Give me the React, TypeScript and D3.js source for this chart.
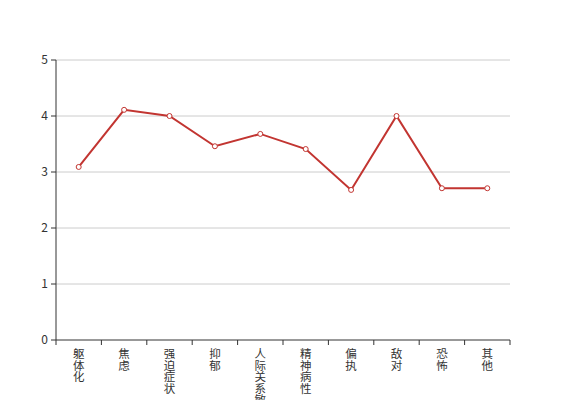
import React from "react";
import * as d3 from "d3";

const categories = ["躯体化", "焦虑", "强迫症状", "抑郁", "人际关系敏感", "精神病性", "偏执", "敌对", "恐怖", "其他"];
const values = [3.09, 4.11, 4.0, 3.46, 3.68, 3.41, 2.68, 4.0, 2.71, 2.71];
const yTicks = [0, 1, 2, 3, 4, 5];

export default function App() {
  const W = 567, H = 400;
  const left = 56, right = 510, top = 60, bottom = 340;
  const x = d3.scaleBand<string>().domain(categories).range([left, right]);
  const y = d3.scaleLinear().domain([0, 5]).range([bottom, top]);
  const line = d3.line<number>()
    .x((_, i) => (x(categories[i]) as number) + x.bandwidth() / 2)
    .y((d) => y(d));
  const boundaries = categories.map((c) => x(c) as number).concat([right]);
  const font = "'Noto Sans CJK SC', 'Noto Sans', sans-serif";
  return (
    <svg width={W} height={H} style={{ position: "absolute", left: 0, top: 0 }}>
      {yTicks.map((t) => (
        <g key={t}>
          {t > 0 && <line x1={left} x2={right} y1={y(t)} y2={y(t)} stroke="#ccc" strokeWidth={1} />}
          <line x1={left - 5} x2={left} y1={y(t)} y2={y(t)} stroke="#333" />
          <text x={left - 8} y={y(t)} dy="0.35em" textAnchor="end" fontSize={12} fill="#333" fontFamily={font}>{t}</text>
        </g>
      ))}
      <line x1={left} x2={left} y1={top} y2={bottom} stroke="#333" />
      <line x1={left} x2={right} y1={bottom} y2={bottom} stroke="#333" />
      {boundaries.map((b, i) => (
        <line key={i} x1={b} x2={b} y1={bottom} y2={bottom + 5} stroke="#333" />
      ))}
      {categories.map((c) => (
        <text key={c} x={(x(c) as number) + x.bandwidth() / 2} y={348} fontSize={11.5} fill="#333" fontFamily={font}
          textAnchor="start" style={{ writingMode: "vertical-rl" as any }}>
          {c}
        </text>
      ))}
      <path d={line(values) || ""} fill="none" stroke="#c23531" strokeWidth={2} />
      {values.map((v, i) => (
        <circle key={i} cx={(x(categories[i]) as number) + x.bandwidth() / 2} cy={y(v)} r={2.5} fill="#fff" stroke="#c23531" strokeWidth={1} />
      ))}
    </svg>
  );
}
